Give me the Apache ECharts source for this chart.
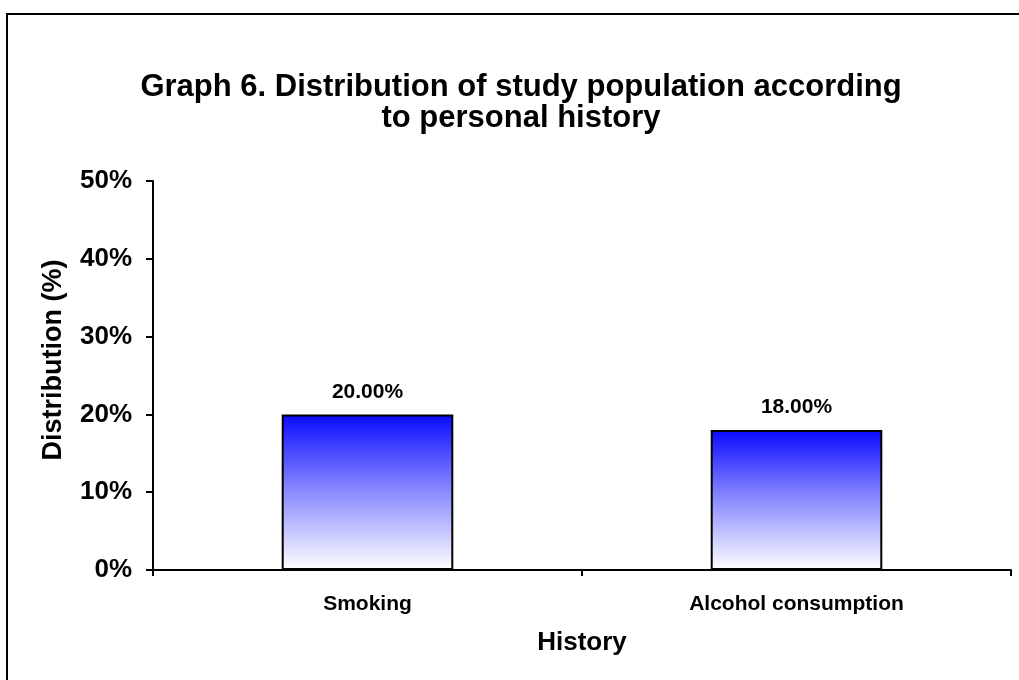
<!DOCTYPE html>
<html style="height: 100%">
<head>
    <meta charset="utf-8">
    <title>Graph 6</title>
    <style>
    body { margin: 0; background: #fff; }
    #container { width: 1019px; height: 680px; }
    </style>
</head>
<body>
    <div id="container"></div>
    <script type="text/javascript" src="https://cdn.jsdelivr.net/npm/echarts@6/dist/echarts.min.js"></script>
    <script type="text/javascript">
    var categories = ['Smoking', 'Alcohol consumption'];
    var values = [20, 18];
    var yTicks = [0, 10, 20, 30, 40, 50];

    var font = 'Liberation Sans, Arial, sans-serif';
    var myChart = echarts.init(document.getElementById('container'));

    var option = {
        animation: false,
        backgroundColor: '#fff',
        title: {
            text: 'Graph 6. Distribution of study population according\nto personal history',
            left: 516,
            top: 67,
            textAlign: 'center',
            textStyle: {
                fontFamily: font,
                fontWeight: 'bold',
                fontSize: 31,
                lineHeight: 31,
                color: '#000'
            }
        },
        // frame round the chart area (only top and left edges show)
        graphic: [
            { type: 'line', shape: { x1: 6, y1: 14, x2: 1019, y2: 14 }, style: { stroke: '#000', lineWidth: 2 } },
            { type: 'line', shape: { x1: 7, y1: 13, x2: 7, y2: 680 }, style: { stroke: '#000', lineWidth: 2 } }
        ],
        grid: { left: 153, right: 8, top: 181, bottom: 110 },
        xAxis: {
            type: 'category',
            data: categories,
            name: 'History',
            nameLocation: 'middle',
            nameGap: 60,
            nameTextStyle: { fontFamily: font, fontWeight: 'bold', fontSize: 26, color: '#000' },
            axisLine: { lineStyle: { color: '#000', width: 2 } },
            axisTick: { show: true, length: 6, lineStyle: { color: '#000', width: 2 } },
            axisLabel: { margin: 24, fontFamily: font, fontWeight: 'bold', fontSize: 21, color: '#000' },
            splitLine: { show: false }
        },
        yAxis: {
            type: 'value',
            min: yTicks[0],
            max: yTicks[yTicks.length - 1],
            interval: 10,
            name: 'Distribution (%)',
            nameLocation: 'middle',
            nameGap: 86,
            nameRotate: 90,
            nameTextStyle: {
                fontFamily: font, fontWeight: 'bold', fontSize: 27, color: '#000',
                padding: [0, 0, 0, 31]
            },
            axisLine: { show: true, lineStyle: { color: '#000', width: 2 } },
            axisTick: { show: true, length: 7, lineStyle: { color: '#000', width: 2 } },
            axisLabel: {
                margin: 21,
                fontFamily: font, fontWeight: 'bold', fontSize: 26, color: '#000',
                formatter: function (v) { return v + '%'; }
            },
            splitLine: { show: false }
        },
        series: [{
            type: 'bar',
            data: values,
            barWidth: '40%',
            itemStyle: {
                borderColor: '#000',
                borderWidth: 2,
                color: new echarts.graphic.LinearGradient(0, 0, 0, 1, [
                    { offset: 0, color: '#0a0aff' },
                    { offset: 0.45, color: '#8080ff' },
                    { offset: 1, color: '#ffffff' }
                ])
            },
            label: {
                show: true,
                position: 'top',
                distance: 12,
                fontFamily: font,
                fontWeight: 'bold',
                fontSize: 21,
                color: '#000',
                formatter: function (p) { return p.value.toFixed(2) + '%'; }
            }
        }]
    };

    myChart.setOption(option);
    </script>
</body>
</html>
